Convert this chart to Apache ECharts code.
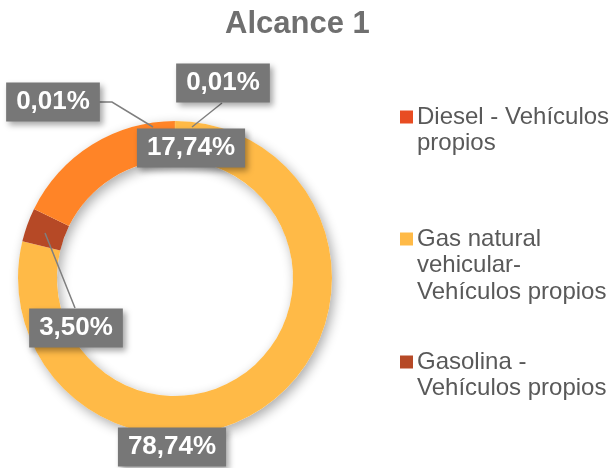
<!DOCTYPE html>
<html>
<head>
<meta charset="utf-8">
<script src="https://cdn.jsdelivr.net/npm/echarts@6/dist/echarts.min.js"></script>
<style>
  html, body { margin: 0; padding: 0; background: #fff; }
  #chart { width: 613px; height: 468px; }
</style>
</head>
<body>
<div id="chart"></div>
<script>
// Fuel share of scope 1 emissions (percent)
const categories = [
  'Diesel - Vehículos propios',
  'Gas natural vehicular- Vehículos propios',
  'Gasolina - Vehículos propios',
  'Combustible 4',
  'Combustible 5'
];
const shares = [0.01, 78.74, 3.50, 17.74, 0.01];
const colors = ['#E84C22', '#FFBA47', '#B64926', '#FF8427', '#CC9900'];

// Categories listed in the legend, with their wrapped lines
const legendNames = categories.slice(0, 3);
const legendLines = [
  ['Diesel - Vehículos', 'propios'],
  ['Gas natural', 'vehicular-', 'Vehículos propios'],
  ['Gasolina -', 'Vehículos propios']
];
const legendTops = [105, 227, 350];

// Hand-placed value boxes and their leader lines
const labelSpots = [
  { x: 223, y: 83, line: [[192, 127], [222, 103]] },
  { x: 172, y: 447 },
  { x: 76, y: 328, line: [[45, 233], [75, 308]] },
  { x: 191, y: 148 },
  { x: 53, y: 102, line: [[153, 127], [112, 102], [99, 102]] }
];

const FONT = 'Liberation Sans, Arial, sans-serif';
const CENTER = [175, 278];
const RADIUS = [118, 157];

const fmtPct = v => v.toFixed(2).replace('.', ',') + '%';

const legendRich = {
  ind: { width: 13, height: 13 },
  t: { fontFamily: FONT, fontSize: 24, lineHeight: 26.5, color: '#595959', padding: [0, 0, 0, 4] }
};
legendNames.forEach((n, i) => {
  legendRich['sq' + i] = { width: 13, height: 13, backgroundColor: colors[i] };
});

const legends = legendNames.map((name, i) => ({
  data: [name],
  left: 395,
  top: legendTops[i],
  orient: 'vertical',
  padding: 0,
  icon: 'none',
  itemWidth: 0,
  itemHeight: 13,
  selectedMode: false,
  formatter: () => legendLines[i]
    .map((l, k) => (k === 0 ? '{sq' + i + '|}' : '{ind|}') + '{t|' + l + '}')
    .join('\n'),
  textStyle: { rich: legendRich }
}));

const pieData = categories.map((name, i) => ({
  name: name,
  value: shares[i],
  itemStyle: { color: colors[i] },
  labelLine: { show: !!labelSpots[i].line }
}));

const chart = echarts.init(document.getElementById('chart'), null, { renderer: 'canvas' });

chart.setOption({
  animation: false,
  title: {
    text: 'Alcance 1',
    left: 225,
    top: 9,
    padding: 0,
    textStyle: { fontFamily: FONT, fontSize: 31, fontWeight: 'bold', color: '#6F6F6F' }
  },
  legend: legends,
  series: [
    {
      // soft drop shadow under the ring
      type: 'pie',
      silent: true,
      z: 1,
      center: CENTER,
      radius: RADIUS,
      label: { show: false },
      labelLine: { show: false },
      emphasis: { disabled: true },
      itemStyle: {
        color: '#ffffff',
        shadowBlur: 12,
        shadowOffsetX: 3,
        shadowOffsetY: 4,
        shadowColor: 'rgba(0,0,0,0.33)'
      },
      data: [{ value: 1, name: '' }]
    },
    {
      // the ring itself
      type: 'pie',
      z: 2,
      center: CENTER,
      radius: RADIUS,
      startAngle: 90,
      clockwise: true,
      emphasis: { disabled: true },
      itemStyle: { borderWidth: 0 },
      label: { show: false },
      labelLine: { show: false },
      data: pieData.map(d => ({ name: d.name, value: d.value, itemStyle: d.itemStyle }))
    },
    {
      // value boxes and leader lines, kept above the ring
      type: 'pie',
      z: 3,
      silent: true,
      center: CENTER,
      radius: RADIUS,
      startAngle: 90,
      clockwise: true,
      avoidLabelOverlap: false,
      emphasis: { disabled: true },
      itemStyle: { color: 'rgba(0,0,0,0)', borderWidth: 0 },
      label: {
        show: true,
        position: 'outside',
        formatter: p => fmtPct(p.value),
        fontFamily: FONT,
        fontSize: 26,
        fontWeight: 'bold',
        color: '#ffffff',
        lineHeight: 29,
        backgroundColor: '#777777',
        padding: [5, 10, 5, 10],
        shadowColor: 'rgba(0,0,0,0.35)',
        shadowBlur: 6,
        shadowOffsetX: 3,
        shadowOffsetY: 3
      },
      labelLine: {
        show: true,
        lineStyle: { color: '#7F7F7F', width: 1.5 }
      },
      labelLayout: p => {
        const s = labelSpots[p.dataIndex];
        const out = { x: s.x, y: s.y, align: 'center', verticalAlign: 'middle' };
        if (s.line) out.labelLinePoints = s.line;
        return out;
      },
      data: pieData.map(d => ({ name: d.name, value: d.value, labelLine: d.labelLine }))
    }
  ]
});
</script>
</body>
</html>
